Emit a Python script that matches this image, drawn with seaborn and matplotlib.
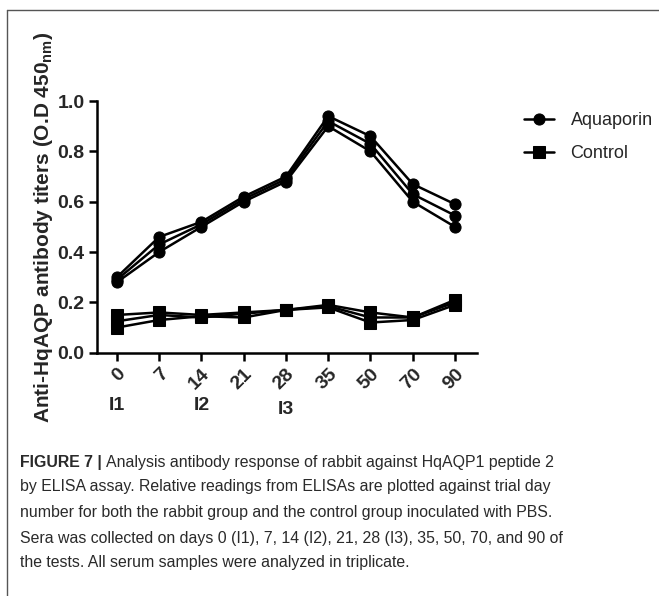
import pandas as pd
import matplotlib.pyplot as plt
import seaborn as sns

# data (3 replicates per group)
days = ["0", "7", "14", "21", "28", "35", "50", "70", "90"]
aqp_rep1 = [0.28, 0.40, 0.50, 0.60, 0.68, 0.90, 0.80, 0.60, 0.50]
aqp_rep2 = [0.29, 0.43, 0.51, 0.61, 0.69, 0.92, 0.83, 0.63, 0.545]
aqp_rep3 = [0.30, 0.46, 0.52, 0.62, 0.70, 0.94, 0.86, 0.67, 0.59]
ctl_rep1 = [0.10, 0.13, 0.145, 0.14, 0.17, 0.18, 0.12, 0.13, 0.19]
ctl_rep2 = [0.125, 0.15, 0.14, 0.155, 0.17, 0.185, 0.14, 0.14, 0.20]
ctl_rep3 = [0.15, 0.16, 0.15, 0.16, 0.17, 0.19, 0.16, 0.14, 0.21]
immunisations = {"I1": "0", "I2": "14", "I3": "28"}

rows = []
for group, reps in [("Aquaporin", [aqp_rep1, aqp_rep2, aqp_rep3]),
                    ("Control", [ctl_rep1, ctl_rep2, ctl_rep3])]:
    for r, vals in enumerate(reps):
        for i, v in enumerate(vals):
            rows.append({"group": group, "rep": r, "pos": i, "od": v})
df = pd.DataFrame(rows)

sns.set_style("ticks")
plt.rcParams['font.family'] = ['Liberation Sans', 'DejaVu Sans']
plt.rcParams['mathtext.fontset'] = 'custom'
plt.rcParams['mathtext.rm'] = 'Liberation Sans:bold'
plt.rcParams['mathtext.bf'] = 'Liberation Sans:bold'

fig = plt.figure(figsize=(6.59, 5.96), dpi=100)
ax = fig.add_axes([0.1472, 0.4082, 0.5766, 0.4223])

sns.lineplot(data=df, x="pos", y="od", hue="group", style="group", units="rep",
             estimator=None, palette={"Aquaporin": "black", "Control": "black"},
             markers={"Aquaporin": "o", "Control": "s"}, dashes=False,
             markersize=8, linewidth=1.8, markeredgecolor="black", ax=ax)

ax.set_xlim(-0.47, len(days) - 0.48)
ax.set_ylim(0, 1.0)
ax.set_yticks([0.0, 0.2, 0.4, 0.6, 0.8, 1.0])
ax.set_yticklabels([f"{t:.1f}" for t in [0.0, 0.2, 0.4, 0.6, 0.8, 1.0]])
ax.set_xticks(range(len(days)))
ax.set_xticklabels(days, rotation=45, ha="right", rotation_mode="anchor")
for lab in ax.get_xticklabels() + ax.get_yticklabels():
    lab.set_fontweight("bold")
    lab.set_fontsize(14)
ax.tick_params(axis="both", width=1.8, length=6, color="black", pad=3)
for s in ["left", "bottom"]:
    ax.spines[s].set_linewidth(1.8)
    ax.spines[s].set_color("black")
sns.despine(ax=ax)

ax.set_xlabel("")
ax.set_ylabel(r"Anti-HqAQP antibody titers (O.D 450$_{\rm nm}$)",
              fontsize=15, fontweight="bold")
ax.yaxis.set_label_coords(-0.11, 0.5)

# immunisation labels under the day ticks
for lab, d in immunisations.items():
    i = days.index(d)
    dy = -0.21 if lab != "I3" else -0.225
    ax.text(i, dy, lab, transform=ax.get_xaxis_transform(), ha="center",
            va="center", fontsize=14, fontweight="bold")

sns.move_legend(ax, "upper left", bbox_to_anchor=(1.08, 1.02), frameon=False,
                title=None, fontsize=13, handlelength=1.7, handletextpad=0.9,
                labelspacing=0.9)

# caption
cap_color = "#2a2a2a"
cap_x = 20 / 659
line_ys = [462, 487, 512, 538, 563]
cap_font = ['Liberation Sans Narrow', 'Liberation Sans']
head = fig.text(cap_x, 1 - line_ys[0] / 596, "FIGURE 7 | ", fontsize=11.4,
                fontweight="bold", color=cap_color, va="center", family=cap_font)
ax.annotate("Analysis antibody response of rabbit against HqAQP1 peptide 2",
            xy=(1, 0.5), xycoords=head, va="center", ha="left", fontsize=11.4,
            color=cap_color, family=cap_font, annotation_clip=False)
cap_lines = [
    "by ELISA assay. Relative readings from ELISAs are plotted against trial day",
    "number for both the rabbit group and the control group inoculated with PBS.",
    "Sera was collected on days 0 (I1), 7, 14 (I2), 21, 28 (I3), 35, 50, 70, and 90 of",
    "the tests. All serum samples were analyzed in triplicate.",
]
for y, t in zip(line_ys[1:], cap_lines):
    fig.text(cap_x, 1 - y / 596, t, fontsize=11.4, color=cap_color, va="center",
             family=cap_font)

# outer frame (left and top edges visible)
fig.add_artist(plt.Line2D([7 / 659, 7 / 659], [0, 1 - 10 / 596],
                          transform=fig.transFigure, color="#555555", lw=1))
fig.add_artist(plt.Line2D([7 / 659, 1], [1 - 10 / 596, 1 - 10 / 596],
                          transform=fig.transFigure, color="#555555", lw=1))

fig.savefig("out.png", dpi=100)
